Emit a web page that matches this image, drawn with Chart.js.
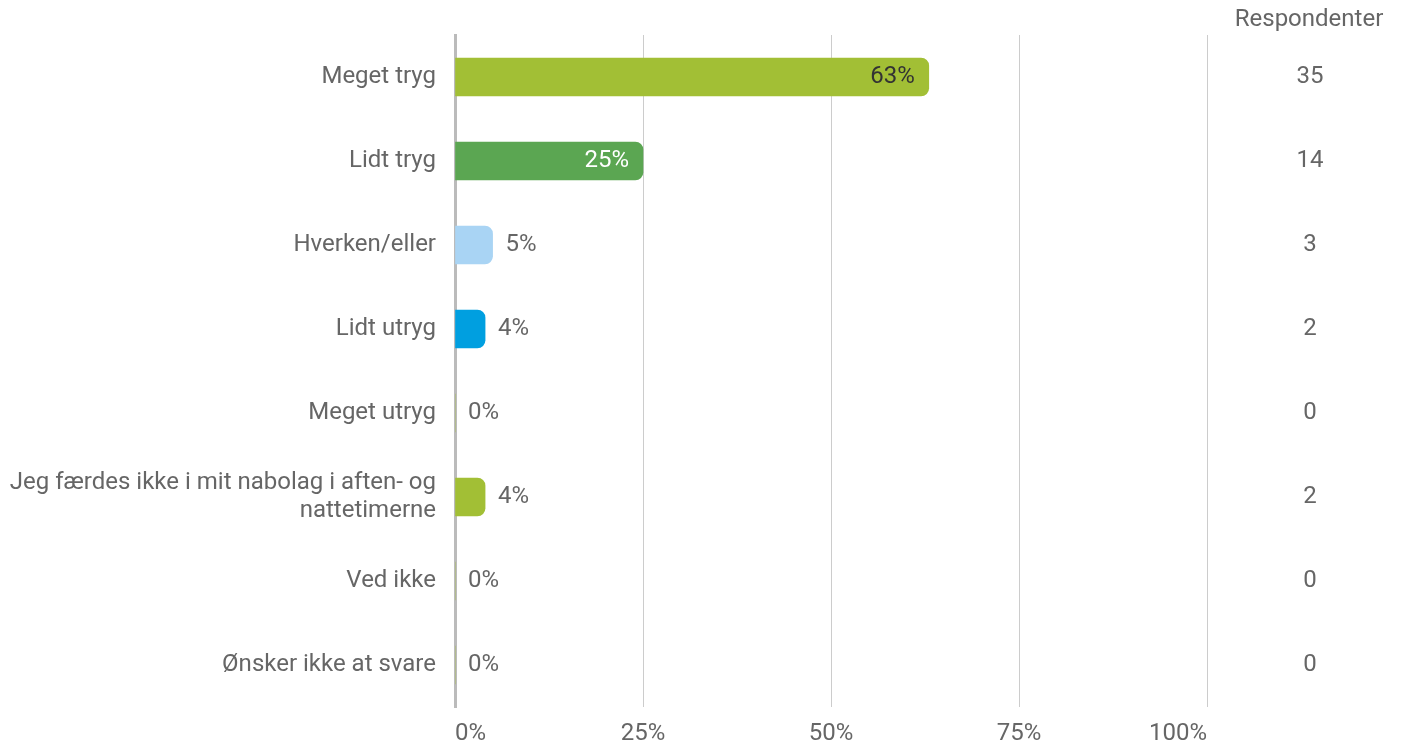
<!DOCTYPE html>
<html>
<head>
<meta charset="utf-8">
<script src="https://cdn.jsdelivr.net/npm/chart.js@4.4.1/dist/chart.umd.min.js"></script>
<style>
  html, body { margin: 0; padding: 0; background: #fff; }
  #wrap { width: 1401px; height: 747px; position: relative; }
</style>
</head>
<body>
<div id="wrap"><canvas id="chart-safety"></canvas></div>
<script>
/* Horizontal bar chart: tryghed i nabolaget, aften/nat */

const categories = [
  'Meget tryg',
  'Lidt tryg',
  'Hverken/eller',
  'Lidt utryg',
  'Meget utryg',
  ['Jeg færdes ikke i mit nabolag i aften- og', 'nattetimerne'],
  'Ved ikke',
  'Ønsker ikke at svare',
];
const percentages = [63, 25, 5, 4, 0, 4, 0, 0];
const respondents = [35, 14, 3, 2, 0, 2, 0, 0];
const xTicks = [0, 25, 50, 75, 100];
const countHeader = 'Respondenter';

const COLORS = {
  lime: '#A2BF35',
  green: '#5BA652',
  sky: '#A9D4F4',
  blue: '#009FE0',
  text: '#666666',
  dark: '#333333',
  grid: '#CCCCCC',
  axis: '#BBBBBB',
};

const barColors = [COLORS.lime, COLORS.green, COLORS.sky, COLORS.blue, COLORS.lime, COLORS.lime, COLORS.lime, COLORS.lime];
const insideColors = [COLORS.dark, '#ffffff'];
const FONT = 'Roboto, "Noto Sans", sans-serif';
const FONT_SIZE = 24;

// value labels on bars + respondent column on the right
const labelsPlugin = {
  id: 'barLabels',
  afterDatasetsDraw(chart) {
    const ctx = chart.ctx;
    const meta = chart.getDatasetMeta(0);
    const yScale = chart.scales.y;
    ctx.save();
    ctx.font = `${FONT_SIZE}px ${FONT}`;
    ctx.textBaseline = 'middle';

    meta.data.forEach((bar, i) => {
      const txt = percentages[i] + '%';
      const w = ctx.measureText(txt).width;
      const barLen = bar.x - bar.base;
      if (barLen > w + 30) {
        ctx.fillStyle = insideColors[i] || COLORS.dark;
        ctx.textAlign = 'right';
        ctx.fillText(txt, bar.x - 14, bar.y);
      } else {
        ctx.fillStyle = COLORS.text;
        ctx.textAlign = 'left';
        ctx.fillText(txt, bar.x + 13, bar.y);
      }
    });

    ctx.fillStyle = COLORS.text;
    ctx.textAlign = 'center';
    ctx.fillText(countHeader, 1309, 20);
    respondents.forEach((n, i) => {
      ctx.fillText(String(n), 1310, yScale.getPixelForValue(i));
    });
    ctx.restore();
  },
};

const chart = new Chart(document.getElementById('chart-safety'), {
  type: 'bar',
  data: {
    labels: categories,
    datasets: [{
      data: percentages,
      backgroundColor: barColors,
      borderRadius: 8,
      borderSkipped: 'start',
      barThickness: 38,
    }],
  },
  options: {
    indexAxis: 'y',
    responsive: true,
    maintainAspectRatio: false,
    animation: false,
    layout: { padding: { top: 35, right: 194, left: 0, bottom: 0 } },
    plugins: {
      legend: { display: false },
      tooltip: { enabled: false },
    },
    scales: {
      x: {
        min: 0,
        max: 100,
        afterBuildTicks: scale => { scale.ticks = xTicks.map(v => ({ value: v })); },
        afterFit: scale => { scale.height = 40; },
        grid: { color: COLORS.grid, drawTicks: false, lineWidth: 1 },
        border: { display: false },
        ticks: {
          align: 'inner',
          padding: 13,
          color: COLORS.text,
          font: { family: FONT, size: FONT_SIZE },
          callback: v => v + '%',
        },
      },
      y: {
        afterFit: scale => { scale.width = 455; },
        grid: { display: false, drawTicks: false },
        border: { display: true, color: COLORS.axis, width: 3 },
        ticks: {
          padding: 19,
          color: COLORS.text,
          font: { family: FONT, size: FONT_SIZE, lineHeight: 1.15 },
        },
      },
    },
  },
  plugins: [labelsPlugin],
});
</script>
</body>
</html>
